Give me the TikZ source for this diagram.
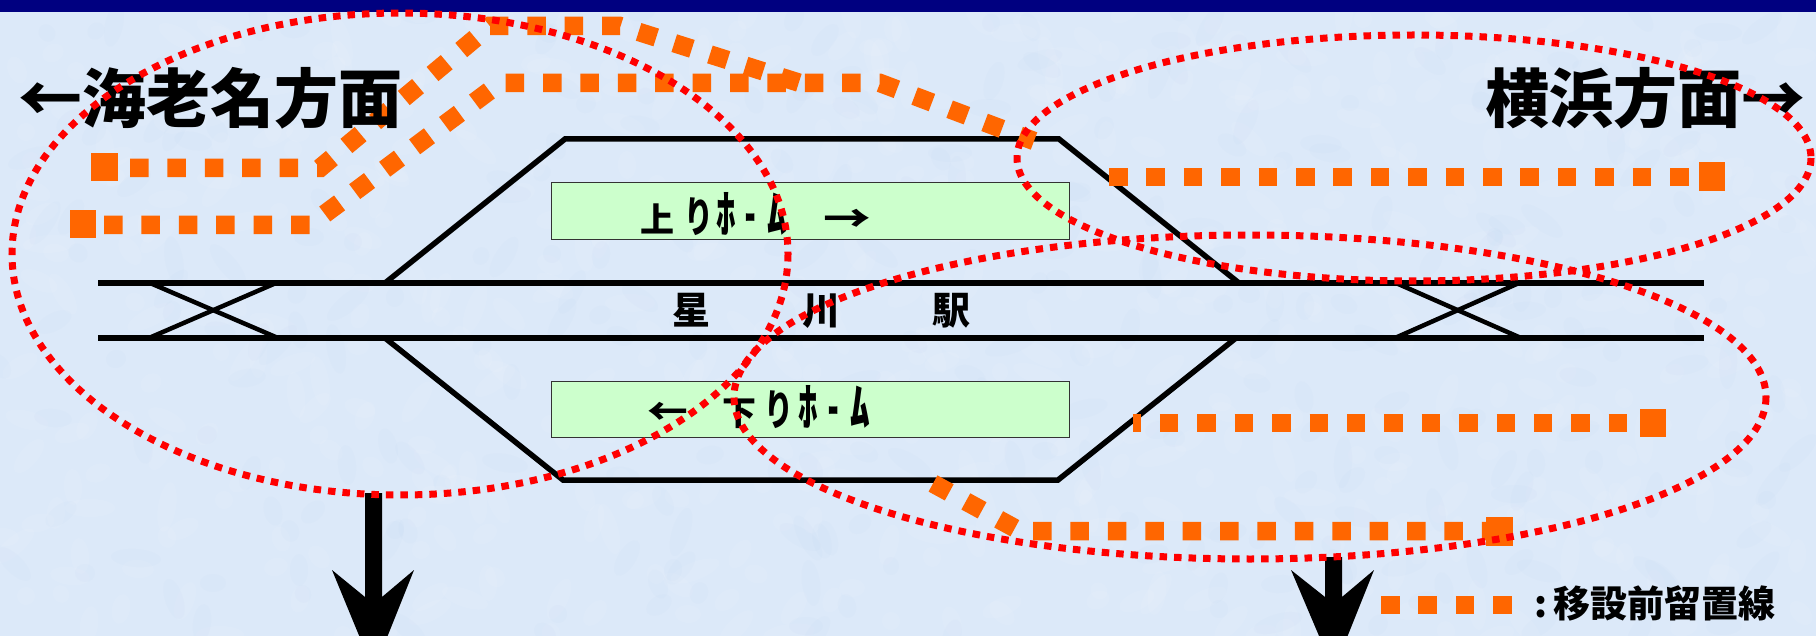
\documentclass[tikz,border=0pt]{standalone}
\usepackage{fontspec}
\newfontfamily\jp{Noto Sans CJK JP}
\definecolor{bgblue}{HTML}{DCE9F9}
\definecolor{navybar}{HTML}{000080}
\definecolor{stay}{HTML}{FF6600}
\definecolor{plat}{HTML}{CCFFCC}
\definecolor{mottle}{HTML}{B8CDEB}
\newcommand{\hwkana}[1]{\scalebox{1.15}[1.5]{#1}}
\newcommand{\homeword}{\hwkana{ﾎ}\hspace{10pt}\scalebox{.6}[1.2]{ｰ}\hspace{12pt}\hwkana{ﾑ}}
\newcommand{\tallri}{\scalebox{.85}[1.25]{り}}
\tikzset{
  track/.style={line width=5.5pt,black},
  thin track/.style={line width=5.5pt,black,line join=miter},
  cross/.style={line width=4.5pt,black},
  stayline/.style={stay,line width=18.5pt,dash pattern=on 18.5pt off 18.9pt},
  stayend/.style={fill=stay,draw=none},
  circled/.style={red,line width=7pt,dash pattern=on 7.5pt off 7pt},
  platform/.style={fill=plat,draw=black!80,line width=1pt},
  title/.style={inner sep=0pt,font=\jp\bfseries\fontsize{64}{64}\selectfont},
  ptext/.style={inner sep=0pt,font=\jp\bfseries\fontsize{34}{34}\selectfont},
  legend/.style={inner sep=0pt,font=\jp\bfseries\fontsize{37}{37}\selectfont},
}
\begin{document}
\begin{tikzpicture}[x=1pt,y=-1pt]
\clip (0,0) rectangle (1816,636);
\fill[bgblue] (0,0) rectangle (1816,636);
% mottled paper background
\pgfmathsetseed{7}
\foreach \i in {1,...,900}{
  \pgfmathsetmacro{\px}{random(0,1816)}
  \pgfmathsetmacro{\py}{random(12,636)}
  \pgfmathsetmacro{\pr}{random(8,26)}
  \pgfmathsetmacro{\pa}{random(0,180)}
  \pgfmathtruncatemacro{\pc}{mod(\i,3)}
  \ifnum\pc=0 \def\tone{mottle}\else\def\tone{white}\fi
  \fill[\tone,opacity=.07,rotate around={\pa:(\px,\py)}] (\px,\py) ellipse [x radius=\pr,y radius=9];
}
\fill[navybar] (0,0) rectangle (1816,12);
% tracks
\draw[cross] (150,283) -- (278,338);
\draw[cross] (276,283) -- (149,338);
\draw[cross] (1396,283) -- (1521,338);
\draw[cross] (1519,283) -- (1395,338);
\draw[thin track] (385,283) -- (565,139) -- (1059,139) -- (1239,283);
\draw[thin track] (385,338) -- (563,480) -- (1058,480) -- (1236,338);
\draw[track] (98,283) -- (1704,283);
\draw[track] (98,338) -- (1704,338);
% platforms
\node[platform,minimum width=518pt,minimum height=57pt,inner sep=0pt,anchor=north west] (upplat) at (551,182) {};
\node[platform,minimum width=518pt,minimum height=56pt,inner sep=0pt,anchor=north west] (downplat) at (551,381) {};
\node[ptext,anchor=west] (uptext) at (640,214) {上\hspace{10pt}\tallri\hspace{3pt}\homeword\hspace{36pt}\scalebox{1.4}[1.1]{→}};
\node[ptext,anchor=west] (downtext) at (647,407) {\scalebox{1.2}[1.1]{←}\hspace{34pt}下\hspace{8pt}\tallri\hspace{6pt}\homeword};
\node[inner sep=0pt,font=\jp\bfseries\fontsize{38}{38}\selectfont] (station) at (821,311) {星\hspace{92pt}川\hspace{92pt}駅};
% former sidings
\draw[stayline] (130,168) -- (320,168) -- (490,26) -- (620,26) -- (800,83);
\draw[stayline] (104,225) -- (310,225) -- (500,83) -- (880,83) -- (1034,141);
\draw[stayline] (1109,177) -- (1699,177);
\draw[stayline,dash phase=10.5pt] (1133,423) -- (1640,423);
\draw[stayline] (933,483.5) -- (1020,531) -- (1486,531);
\draw[stayline] (1381,605) -- (1512,605);
\fill[stayend] (91,153) rectangle (118,181);
\fill[stayend] (70,210) rectangle (96,238);
\fill[stayend] (1699,162) rectangle (1725,191);
\fill[stayend] (1640,409) rectangle (1666,437);
\fill[stayend] (1486,517) rectangle (1513,546);
% direction labels
\node[title,anchor=west] (west) at (18,98) {←海老名方面};
\node[title,anchor=east] (east) at (1806,98) {横浜方面→};
\node[legend,anchor=west] (legendtext) at (1534,603) {:\hspace{6pt}移設前留置線};
% down arrows
\fill (365,493) -- (382,493) -- (382,597) -- (414,570) -- (382,650) -- (365,650) -- (332,570) -- (365,597) -- cycle;
\fill (1325,557) -- (1342,557) -- (1342,597) -- (1374,570) -- (1342,650) -- (1325,650) -- (1291,570) -- (1325,597) -- cycle;
% red groupings
\draw[circled] (400,254) ellipse [x radius=388,y radius=241];
\draw[circled] (1414,158) ellipse [x radius=397,y radius=123];
\draw[circled] (1250,397) ellipse [x radius=516,y radius=162];
\end{tikzpicture}
\end{document}
